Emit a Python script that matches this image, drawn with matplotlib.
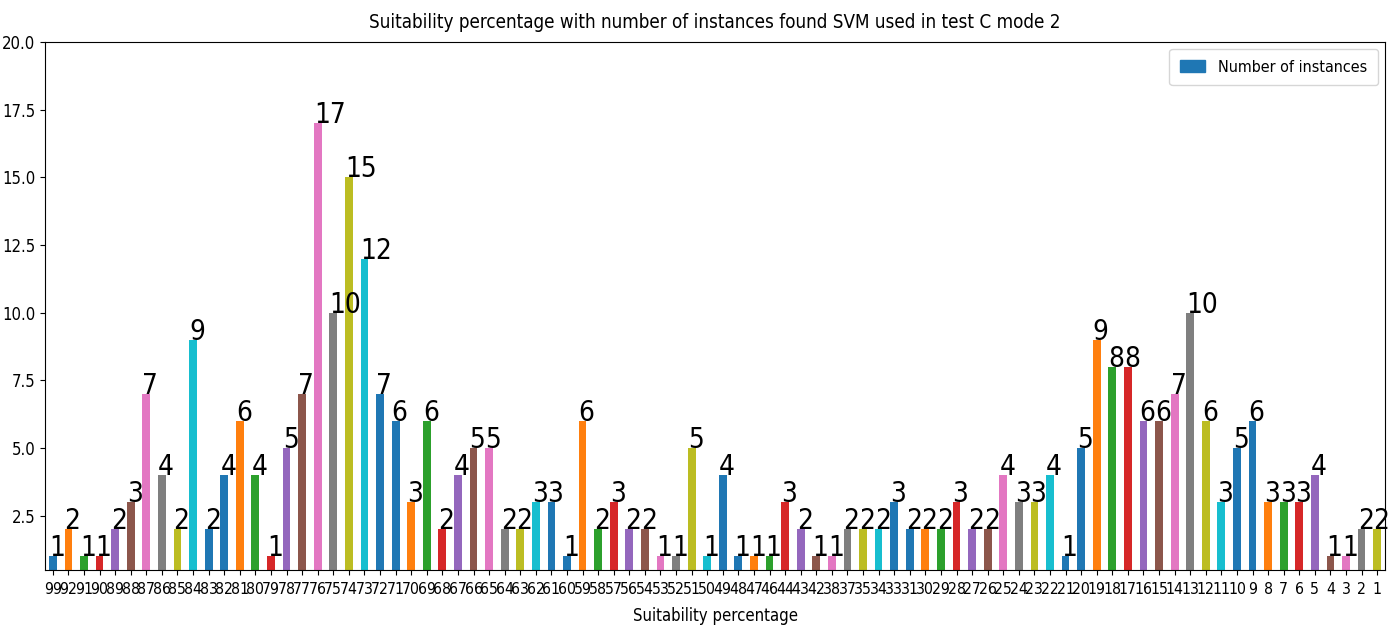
import matplotlib
matplotlib.use("Agg")
import matplotlib.pyplot as plt
import numpy as np

# the source image has narrow (squeezed) lettering, condensed DejaVu is closest
plt.rcParams['font.family'] = ['DejaVu Sans']
plt.rcParams['font.stretch'] = 'condensed'

# Suitability percentage (x categories, in plotted order) and instance counts
percentages = [99, 92, 91, 90, 89, 88, 87, 86, 85, 84,
               83, 82, 81, 80, 79, 78, 77, 76, 75, 74,
               73, 72, 71, 70, 69, 68, 67, 66, 65, 64,
               63, 62, 61, 60, 59, 58, 57, 56, 54, 53,
               52, 51, 50, 49, 48, 47, 46, 44, 43, 42,
               38, 37, 35, 34, 33, 31, 30, 29, 28, 27,
               26, 25, 24, 23, 22, 21, 20, 19, 18, 17,
               16, 15, 14, 13, 12, 11, 10, 9, 8, 7,
               6, 5, 4, 3, 2, 1]
instances = [1, 2, 1, 1, 2, 3, 7, 4, 2, 9,
             2, 4, 6, 4, 1, 5, 7, 17, 10, 15,
             12, 7, 6, 3, 6, 2, 4, 5, 5, 2,
             2, 3, 3, 1, 6, 2, 3, 2, 2, 1,
             1, 5, 1, 4, 1, 1, 1, 3, 2, 1,
             1, 2, 2, 2, 3, 2, 2, 2, 3, 2,
             2, 4, 3, 3, 4, 1, 5, 9, 8, 8,
             6, 6, 7, 10, 6, 3, 5, 6, 3, 3,
             3, 4, 1, 1, 2, 2]
y_ticks = [2.5, 5.0, 7.5, 10.0, 12.5, 15.0, 17.5, 20.0]

tab = plt.rcParams['axes.prop_cycle'].by_key()['color']
cycle = tab + [tab[0]]   # 11-colour cycle seen in the source image
colors = [cycle[i % len(cycle)] for i in range(len(instances))]

fig = plt.figure(figsize=(13.95, 6.33), dpi=100)
ax = fig.add_axes([0.0323, 0.0995, 0.9605, 0.8341])

pos = np.arange(len(instances))
ax.bar(pos, instances, width=0.5, color=colors, label="Number of instances")

for x, v in zip(pos, instances):
    ax.text(x - 0.25, v, str(v), ha="left", va="baseline", fontsize=20)

ax.set_xticks(pos)
ax.set_xticklabels([str(p) for p in percentages], rotation=0, fontsize=11.3)
ax.tick_params(axis="x", pad=5)
ax.set_yticks(y_ticks)
ax.set_yticklabels(["%.1f" % t for t in y_ticks], fontsize=12)
ax.set_xlim(-0.5, len(instances) - 0.5)
ax.set_ylim(0.5, 20.0)

ax.set_xlabel("Suitability percentage", fontsize=12, labelpad=7)
ax.set_title("Suitability percentage with number of instances found SVM used in test C mode 2",
             fontsize=13.5, pad=10)
leg = ax.legend(loc="upper right", fontsize=11.5, borderpad=0.65, borderaxespad=0.45,
                handlelength=1.6)
leg.legend_handles[0].set_color(tab[0])

fig.savefig("out.png", dpi=100)
